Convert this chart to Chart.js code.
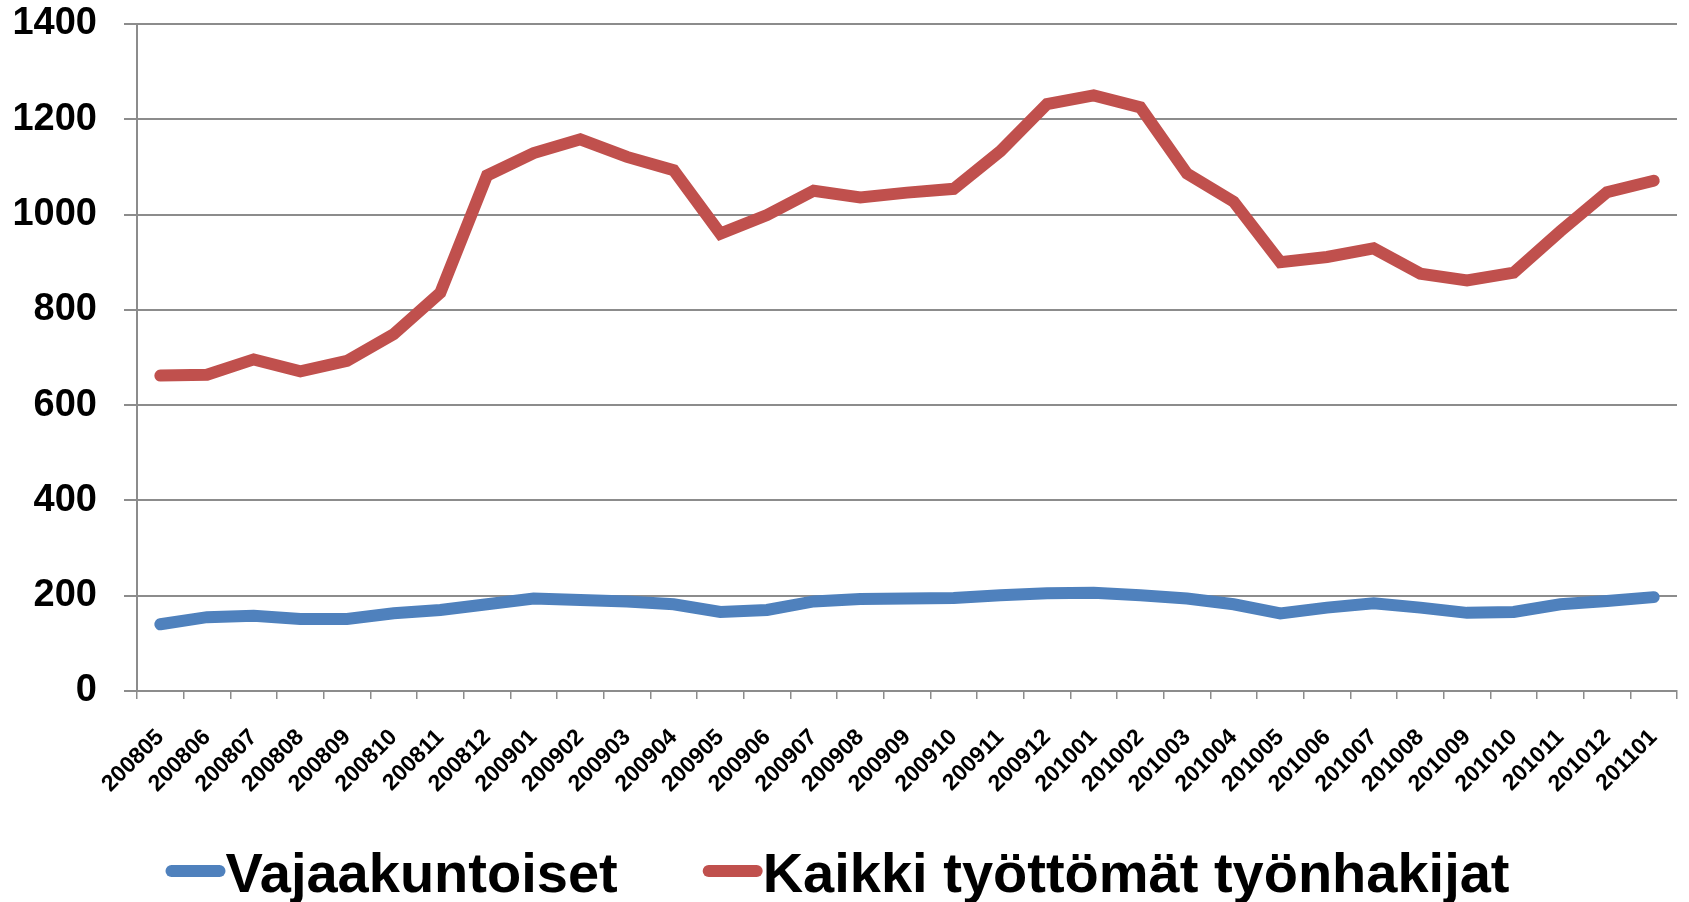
<!DOCTYPE html>
<html>
<head>
<meta charset="utf-8">
<script src="https://cdn.jsdelivr.net/npm/chart.js@4.4.0/dist/chart.umd.min.js"></script>
<style>
html, body { margin: 0; padding: 0; background: #fff; }
#wrap { width: 1689px; height: 902px; }
</style>
</head>
<body>
<div id="wrap"><canvas id="myChart"></canvas></div>
<script>
// Kuukaudet (vvvvkk)
const kuukaudet = [
    '200805', '200806', '200807', '200808', '200809', '200810', '200811', '200812',
    '200901', '200902', '200903', '200904', '200905', '200906', '200907', '200908',
    '200909', '200910', '200911', '200912',
    '201001', '201002', '201003', '201004', '201005', '201006', '201007', '201008',
    '201009', '201010', '201011', '201012',
    '201101'
];

// Vajaakuntoiset
const vajaakuntoiset = [
    140, 155, 158, 151, 151, 163, 170, 182,
    194, 191, 188, 182, 166, 170, 188, 193,
    194, 195, 201, 205,
    206, 201, 194, 182, 163, 175, 184, 175,
    164, 166, 182, 189,
    197
];

// Kaikki työttömät työnhakijat
const kaikki = [
    662, 664, 696, 671, 693, 749, 836, 1082,
    1129, 1158, 1121, 1093, 960, 999, 1050, 1036,
    1046, 1054, 1133, 1232,
    1250, 1225, 1086, 1027, 900, 911, 929, 876,
    862, 878, 965, 1047,
    1071
];

// Y-akselin jaotus
const yMin = 0;
const yMax = 1400;
const yAskel = 200;

// Selite piirretään itse, jotta viiva ja teksti ovat kiinni toisissaan
const selitePlugin = {
    id: 'selite',
    afterDraw(chart) {
        const ctx = chart.ctx;
        ctx.save();
        ctx.font = 'bold 56px "Liberation Sans"';
        const viiva = 60;
        const vali = 85;
        const osat = chart.data.datasets.map(ds => ({
            teksti: ds.label,
            vari: ds.borderColor,
            leveys: ctx.measureText(ds.label).width
        }));
        const yhteensa = osat.reduce((s, o) => s + viiva + o.leveys, 0) + vali * (osat.length - 1);
        let x = (chart.width - yhteensa) / 2 - 7;
        osat.forEach(o => {
            ctx.strokeStyle = o.vari;
            ctx.lineWidth = 12;
            ctx.lineCap = 'round';
            ctx.beginPath();
            ctx.moveTo(x + 6, 871);
            ctx.lineTo(x + viiva - 6, 871);
            ctx.stroke();
            ctx.fillStyle = '#000';
            ctx.textBaseline = 'alphabetic';
            ctx.fillText(o.teksti, x + viiva, 892);
            x += viiva + o.leveys + vali;
        });
        ctx.restore();
    }
};

const ctx = document.getElementById('myChart').getContext('2d');
new Chart(ctx, {
    type: 'line',
    data: {
        labels: kuukaudet,
        datasets: [{
            label: 'Vajaakuntoiset',
            data: vajaakuntoiset,
            borderColor: '#4F81BD',
            backgroundColor: '#4F81BD',
            borderWidth: 12,
            pointRadius: 0,
            tension: 0,
            borderCapStyle: 'round',
            borderJoinStyle: 'miter'
        }, {
            label: 'Kaikki työttömät työnhakijat',
            data: kaikki,
            borderColor: '#C0504D',
            backgroundColor: '#C0504D',
            borderWidth: 12,
            pointRadius: 0,
            tension: 0,
            borderCapStyle: 'round',
            borderJoinStyle: 'miter'
        }]
    },
    options: {
        responsive: true,
        maintainAspectRatio: false,
        animation: false,
        layout: { padding: { top: 24, right: 12, bottom: 71, left: 0 } },
        plugins: {
            legend: { display: false },
            tooltip: { enabled: false }
        },
        scales: {
            x: {
                offset: true,
                grid: { offset: true, drawOnChartArea: false, drawTicks: true, tickLength: 8, color: '#8c8c8c', lineWidth: 1.5 },
                border: { color: '#8c8c8c', width: 2 },
                ticks: {
                    autoSkip: false,
                    maxRotation: 45,
                    minRotation: 45,
                    padding: 25,
                    color: '#000',
                    font: { family: 'Liberation Sans', weight: 'bold', size: 23 }
                },
                afterFit: s => {
                    s.height = 140;
                    s.paddingLeft = 0;
                    s.paddingRight = 0;
                }
            },
            y: {
                min: yMin,
                max: yMax,
                ticks: {
                    stepSize: yAskel,
                    padding: 27,
                    color: '#000',
                    font: { family: 'Liberation Sans', weight: 'bold', size: 38 },
                    callback: v => String(v)
                },
                grid: { color: '#8c8c8c', lineWidth: 2, tickLength: 13 },
                border: { color: '#8c8c8c', width: 2 },
                afterFit: s => {
                    s.width = 137;
                    s.paddingTop = 0;
                    s.paddingBottom = 0;
                }
            }
        }
    },
    plugins: [selitePlugin]
});
</script>
</body>
</html>
